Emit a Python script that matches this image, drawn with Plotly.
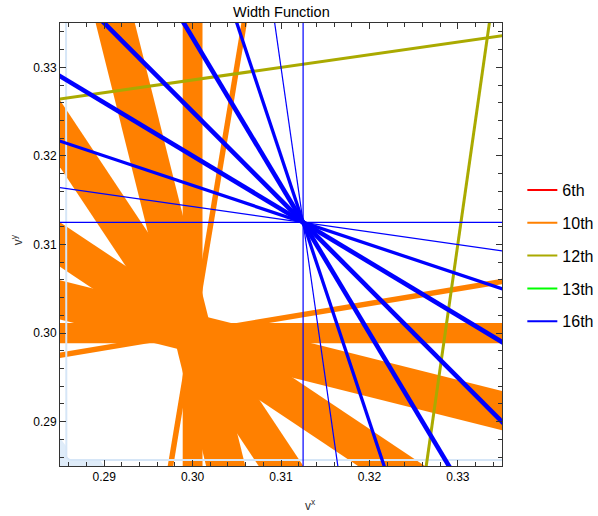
import numpy as np
import plotly.graph_objects as go

# ---------------- data ----------------
X_RANGE = [0.285, 0.335]
Y_RANGE = [0.285, 0.335]
x_ticks = [0.29, 0.30, 0.31, 0.32, 0.33]
y_ticks = [0.29, 0.30, 0.31, 0.32, 0.33]

series_names = ["6th", "10th", "12th", "13th", "16th"]
series_colors = ["#FF0000", "#FF8000", "#AAAA00", "#00FF00", "#0000FF"]

# 10th : bands through a common centre (direction vectors, perpendicular half widths)
orange_center = (0.30, 0.30)
orange_dirs = [(1, 0), (0, 1), (1, -4), (4, -1), (2, -3), (3, -2), (6, 1), (1, 6)]
orange_halfwidths = [0.00115, 0.00112, 0.00215, 0.00215, 0.0021, 0.0021, 0.00031, 0.00031]

# 12th : lines through a common centre
olive_center = (1 / 3, 1 / 3)
olive_dirs = [(7, 1), (1, 7)]
olive_widths = [3.0, 3.0]

# 16th : lines through a common centre
blue_center = (0.3125, 0.3125)
blue_dirs = [(1, 0), (0, 1), (7, -1), (1, -7), (3, -1), (1, -3), (5, -3), (3, -5), (1, -1)]
blue_widths = [1.2, 1.2, 1.2, 1.2, 3.3, 3.3, 4.6, 4.6, 4.6]

# faint light-blue boundary near the lower-left corner
pale_edge_x = [0.28568, 0.28568, 0.28572, 0.28585, 0.28605, 0.2863, 0.34]
pale_edge_y = [0.34, 0.2863, 0.28605, 0.28585, 0.28572, 0.28568, 0.28568]
corner_x = [0.285, 0.28568, 0.28568, 0.28613, 0.28952, 0.28998, 0.285]
corner_y = [0.28816, 0.28726, 0.28613, 0.28568, 0.28568, 0.285, 0.285]

# ---------------- figure ----------------
L = 0.2
fig = go.Figure()


def unit(d):
    v = np.array(d, dtype=float)
    return v / np.linalg.norm(v)


# orange bands
for d, w in zip(orange_dirs, orange_halfwidths):
    u = unit(d)
    n = np.array([-u[1], u[0]])
    c = np.array(orange_center)
    pts = [c + L * u + w * n, c - L * u + w * n, c - L * u - w * n, c + L * u - w * n, c + L * u + w * n]
    fig.add_trace(go.Scatter(x=[p[0] for p in pts], y=[p[1] for p in pts], mode="lines",
                             fill="toself", fillcolor=series_colors[1], line=dict(width=0, color=series_colors[1]),
                             showlegend=False, hoverinfo="skip"))

# pale light-blue boundary
fig.add_trace(go.Scatter(x=corner_x + [corner_x[0]], y=corner_y + [corner_y[0]], mode="lines", fill="toself",
                         fillcolor="#dfecf9", line=dict(width=0, color="#dfecf9"), showlegend=False, hoverinfo="skip"))
fig.add_trace(go.Scatter(x=pale_edge_x, y=pale_edge_y, mode="lines", line=dict(width=2, color="#d6e6f7"),
                         showlegend=False, hoverinfo="skip"))

# olive lines
for d, w in zip(olive_dirs, olive_widths):
    u = unit(d)
    c = np.array(olive_center)
    p0, p1 = c - L * u, c + L * u
    fig.add_trace(go.Scatter(x=[p0[0], p1[0]], y=[p0[1], p1[1]], mode="lines",
                             line=dict(width=w, color=series_colors[2]), showlegend=False, hoverinfo="skip"))

# blue lines
for d, w in zip(blue_dirs, blue_widths):
    u = unit(d)
    c = np.array(blue_center)
    p0, p1 = c - L * u, c + L * u
    fig.add_trace(go.Scatter(x=[p0[0], p1[0]], y=[p0[1], p1[1]], mode="lines",
                             line=dict(width=w, color=series_colors[4]), showlegend=False, hoverinfo="skip"))

# legend entries
for i, (nm, col) in enumerate(zip(series_names, series_colors)):
    fig.add_trace(go.Scatter(x=[None], y=[None], mode="lines", name=nm, legendgroup=nm,
                             line=dict(width=2, color=col), showlegend=True))

axis_common = dict(
    showgrid=False, zeroline=False, showline=True, linecolor="#333333", linewidth=1,
    mirror="allticks", ticks="inside", ticklen=6, tickwidth=1, tickcolor="#333333",
    minor=dict(ticks="inside", ticklen=4, tickwidth=1, tickcolor="#333333", dtick=0.002, showgrid=False),
    tickfont=dict(family="Liberation Sans, Arial", size=12, color="black"),
    tickformat=".2f",
)

fig.update_xaxes(range=X_RANGE, tickvals=x_ticks, **axis_common)
fig.update_yaxes(range=Y_RANGE, tickvals=y_ticks, **axis_common)

fig.update_layout(
    width=598, height=516,
    margin=dict(l=60, r=96, t=23, b=50, autoexpand=False),
    plot_bgcolor="white", paper_bgcolor="white",
    font=dict(family="Liberation Sans, Arial", color="black"),
    legend=dict(x=1.046, y=0.475, xanchor="left", yanchor="middle",
                font=dict(size=16, family="Liberation Sans, Arial", color="black"),
                tracegroupgap=9, bgcolor="rgba(0,0,0,0)"),
    annotations=[
        dict(text="Width Function", xref="paper", yref="paper", x=0.5, y=1.024, xanchor="center",
             yanchor="middle", showarrow=False, font=dict(size=14.5, color="black")),
        dict(text="v<sup>y</sup>", xref="paper", yref="paper", x=-0.097, y=0.51, xanchor="center",
             yanchor="middle", textangle=-90, showarrow=False, font=dict(size=12, color="#333333")),
        dict(text="v<sup>x</sup>", xref="paper", yref="paper", x=0.566, y=-0.088, xanchor="center",
             yanchor="middle", showarrow=False, font=dict(size=12, color="#333333")),
    ],
)

fig.write_html("out.html")
